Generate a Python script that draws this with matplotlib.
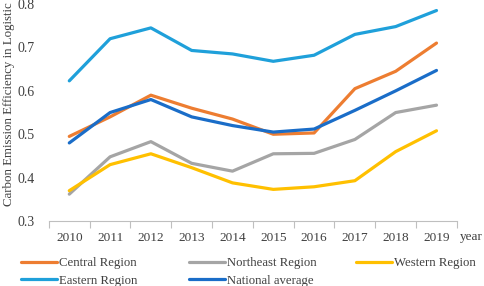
import matplotlib
matplotlib.use("Agg")
from matplotlib import pyplot as plt
from matplotlib.ticker import FixedLocator, NullFormatter

years = ['2010', '2011', '2012', '2013', '2014', '2015', '2016', '2017', '2018', '2019']
central = [0.495, 0.540, 0.590, 0.560, 0.535, 0.500, 0.503, 0.605, 0.645, 0.710]
northeast = [0.362, 0.448, 0.483, 0.433, 0.415, 0.455, 0.456, 0.488, 0.550, 0.567]
western = [0.370, 0.430, 0.455, 0.423, 0.388, 0.373, 0.379, 0.393, 0.460, 0.508]
eastern = [0.623, 0.720, 0.745, 0.693, 0.685, 0.668, 0.682, 0.730, 0.748, 0.785]
national = [0.480, 0.550, 0.580, 0.540, 0.520, 0.505, 0.512, 0.555, 0.600, 0.647]

plt.rcParams['font.family'] = ['Liberation Serif', 'DejaVu Serif']

fig = plt.figure(figsize=(4.84, 2.86), dpi=100)
ax = fig.add_axes([0.101, 0.227, 0.843, 0.759])

x = list(range(len(years)))
series = [
    ('Central Region', central, '#ED7D31'),
    ('Northeast Region', northeast, '#A5A5A5'),
    ('Western Region', western, '#FFC000'),
    ('Eastern Region', eastern, '#1FA0DA'),
    ('National average', national, '#1A6DC8'),
]
lines = {}
for name, vals, col in series:
    lines[name], = ax.plot(x, vals, color=col, lw=2.3, label=name, solid_capstyle='round')

ax.set_xlim(-0.5, len(years) - 0.5)
ax.set_ylim(0.3, 0.8)
ax.set_yticks([0.3, 0.4, 0.5, 0.6, 0.7, 0.8])
ax.set_yticklabels(['0.3', '0.4', '0.5', '0.6', '0.7', '0.8'])
ax.set_xticks(x)
ax.set_xticklabels(years)
ax.xaxis.set_minor_locator(FixedLocator([i - 0.5 for i in range(len(years) + 1)]))
ax.xaxis.set_minor_formatter(NullFormatter())
ax.tick_params(axis='x', which='major', length=0, pad=8, labelsize=9.5, colors='#404040')
ax.tick_params(axis='x', which='minor', length=5, color='#BFBFBF', width=0.8)
ax.tick_params(axis='y', length=0, pad=10, labelsize=10, colors='#404040')

for s in ['top', 'right', 'left']:
    ax.spines[s].set_visible(False)
ax.spines['bottom'].set_color('#BFBFBF')
ax.spines['bottom'].set_linewidth(0.8)

ax.set_ylabel('Carbon Emission Efficiency in Logistic', fontsize=9.3, color='#404040')
ax.yaxis.set_label_coords(-0.083, 0.54)
fig.text(0.951, 1 - 237 / 286, 'year', fontsize=9.5, color='#404040', va='center')

# legend: three columns placed by hand like the original
cols = [(['Central Region', 'Eastern Region'], 22),
        (['Northeast Region', 'National average'], 190),
        (['Western Region'], 357)]
for names, px in cols:
    fig.legend([lines[n] for n in names], names, loc='upper left',
               bbox_to_anchor=(px / 484 - 0.012, 1 - 252 / 286),
               frameon=False, fontsize=9.2, handlelength=2.8, handletextpad=0.15,
               labelspacing=0.45, labelcolor='#404040', borderaxespad=0)

fig.savefig('out.png', dpi=100)
